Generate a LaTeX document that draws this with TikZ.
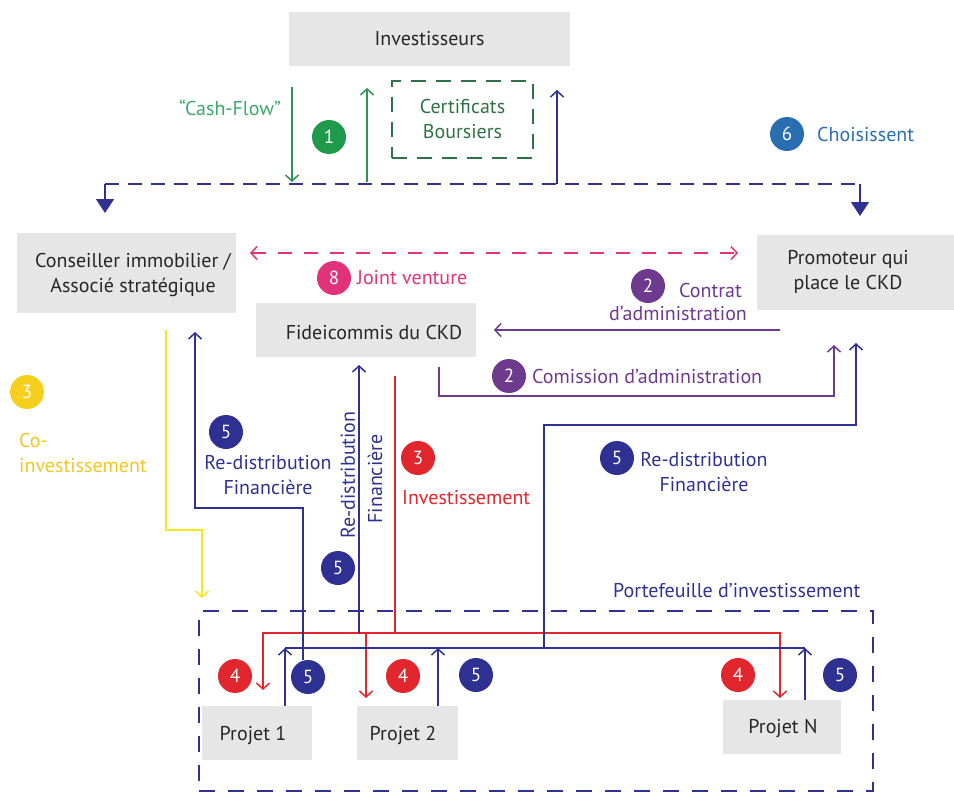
\documentclass[tikz,border=0pt]{standalone}
\usepackage{fontspec}
\setmainfont{PT Sans}
\usetikzlibrary{arrows.meta}
\definecolor{boxgray}{HTML}{E6E6E6}
\definecolor{navy}{HTML}{2E3192}
\definecolor{steel}{HTML}{2A6EB2}
\definecolor{grn}{HTML}{2E9455}
\definecolor{grntxt}{HTML}{3DA86C}
\definecolor{grnc}{HTML}{1E9A4A}
\definecolor{grnd}{HTML}{2F7247}
\definecolor{pinkc}{HTML}{E2327A}
\definecolor{purp}{HTML}{6E3A8E}
\definecolor{redc}{HTML}{E1262D}
\definecolor{yel}{HTML}{F8E71C}
\definecolor{yelc}{HTML}{F6CF1E}
\definecolor{yeltxt}{HTML}{F3C623}
\tikzset{
  box/.style={fill=boxgray, inner sep=0pt, align=center, text=black!85,
    font=\fontsize{20}{25}\selectfont},
  boxtxt/.style={inner sep=0pt, align=center, text=black!85,
    font=\fontsize{20}{25}\selectfont},
  num/.style={circle, inner sep=0pt, minimum size=34pt, text=white,
    font=\fontsize{19}{20}\selectfont},
  lbl/.style={inner sep=0pt, font=\fontsize{20}{25}\selectfont},
  flow/.style={line width=1.5pt},
  tip/.style={-{Straight Barb[length=6pt,width=13pt,line width=1.5pt]}},
  bigtip/.style={-{Triangle[length=14pt,width=18pt]}}
}
\begin{document}
\begin{tikzpicture}[x=1pt,y=-1pt]
\useasboundingbox (0,0) rectangle (954,792);

% boxes
\node[box, minimum width=281pt, minimum height=54pt] (inv) at (429.5,39) {Investisseurs};
\node[box, minimum width=219pt, minimum height=80pt] (cons) at (126.5,273) {};
\node[boxtxt] (constxt) at (133,275) {Conseiller immobilier /\\Associé stratégique};
\node[box, minimum width=197pt, minimum height=75pt] (prom) at (855.5,272.5) {};
\node[boxtxt] (promtxt) at (848,272) {Promoteur qui\\place le CKD};
\node[box, minimum width=220pt, minimum height=54pt] (fid) at (366,330) {};
\node[boxtxt] (fidtxt) at (374,332) {Fideicommis du CKD};
\node[box, minimum width=110pt, minimum height=54pt] (p1) at (257,733) {};
\node[boxtxt] (p1txt) at (253,735) {Projet 1};
\node[box, minimum width=101pt, minimum height=54pt] (p2) at (407.5,733) {};
\node[boxtxt] (p2txt) at (403,735) {Projet 2};
\node[box, minimum width=118pt, minimum height=54pt] (pn) at (782,727) {};
\node[boxtxt] (pntxt) at (783,729) {Projet N};
\node[draw=grnd, line width=1.5pt, dash pattern=on 15pt off 10pt, minimum width=141pt, minimum height=77pt,
  inner sep=0pt, align=center, text=grnd, font=\fontsize{20}{25}\selectfont] (cert) at (462.5,119.5) {Certificats\\Boursiers};

% portfolio
\node[draw=navy, line width=1.5pt, dash pattern=on 16pt off 13pt, minimum width=674pt, minimum height=180pt, inner sep=0pt] (port) at (536,701) {};
\node[lbl, text=navy, anchor=west] (portlbl) at (613,591) {Portefeuille d’investissement};

% top blue dashed line
\coordinate (tl) at (105,184);
\coordinate (tr) at (860,184);
\draw[navy, flow, dash pattern=on 14pt off 9pt] (tl) -- (tr);
\draw[navy, flow, bigtip] (tl) -- (105,213);
\draw[navy, flow, bigtip] (tr) -- (860,216);
\draw[navy, flow, tip] (557,184) -- (557,90);

% green arrows
\draw[grn, flow, tip] (292,87) -- (292,182);
\draw[grn, flow, tip] (367,182) -- (367,88);
\node[lbl, text=grntxt, anchor=east] (cf) at (281,108) {“Cash-Flow”};
\node[num, fill=grnc] (n1) at (329,137) {1};

\node[num, fill=steel] (n6) at (787,134) {6};
\node[lbl, text=steel, anchor=west] (cho) at (817,134) {Choisissent};

% pink joint venture
\draw[pinkc, flow, dash pattern=on 14pt off 12pt, {Straight Barb[length=6pt,width=13pt,line width=1.5pt]}-{Straight Barb[length=6pt,width=13pt,line width=1.5pt]}] (250,253) -- (738,253);
\node[num, fill=pinkc] (n8) at (334,278) {8};
\node[lbl, text=pinkc, anchor=west] (jv) at (357,278) {Joint venture};

% purple
\draw[purp, flow, tip] (780,330) -- (494,330);
\node[num, fill=purp] (n2a) at (648,286) {2};
\node[lbl, text=purp, anchor=west] (ct1) at (679,290) {Contrat};
\node[lbl, text=purp, anchor=west] (ct2) at (609,314) {d’administration};
\draw[purp, flow, tip] (439,367) -- (439,396) -| (834,345);
\node[num, fill=purp] (n2b) at (509,376) {2};
\node[lbl, text=purp, anchor=west] (com) at (532,376) {Comission d’administration};

% yellow
\draw[yel, flow, tip] (166,330) -- (166,530) -| (202,598);
\node[num, fill=yelc] (n3y) at (27,392) {3};
\node[lbl, text=yeltxt, anchor=west, align=left] (coinv) at (19,453) {Co-\\investissement};

% red
\coordinate (rb) at (395,633);
\draw[redc, flow] (395,376) -- (rb);
\draw[redc, flow, tip] (rb) -| (263,690);
\draw[redc, flow, tip] (rb) -| (780,698);
\draw[redc, flow, tip] (366,632) -- (366,698);
\node[num, fill=redc] (n3r) at (418,458) {3};
\node[lbl, text=redc, anchor=west] (inve) at (402,498) {Investissement};
\node[num, fill=redc] (n4a) at (235,676) {4};
\node[num, fill=redc] (n4b) at (403,676) {4};
\node[num, fill=redc] (n4c) at (738,675) {4};

% navy bus
\coordinate (b1) at (285,648);
\coordinate (b2) at (438,648);
\coordinate (bn) at (805,648);
\draw[navy, flow] (b1) -- (bn);
\draw[navy, flow, tip] (p1.north -| b1) -- (b1);
\draw[navy, flow, tip] (p2.north -| b2) -- (b2);
\draw[navy, flow, tip] (pn.north -| bn) -- (bn);

% navy redistributions
\draw[navy, flow, tip] (303,660) -- (303,508) -| (195,332);
\draw[navy, flow, tip] (359,633) -- (359,365);
\draw[navy, flow, tip] (544,648) -- (544,425) -| (856,343);

\node[num, fill=navy] (n5a) at (226,432) {5};
\node[lbl, text=navy, align=center] (rd1) at (268,475) {Re-distribution\\Financière};
\node[lbl, text=navy, rotate=90] (rd2a) at (348,475) {Re-distribution};
\node[lbl, text=navy, rotate=90] (rd2b) at (375,479) {Financière};
\node[num, fill=navy] (n5b) at (338,568) {5};
\node[num, fill=navy] (n5c) at (617,458) {5};
\node[lbl, text=navy, align=center] (rd3) at (704,472) {Re-distribution\\Financière};
\node[num, fill=navy] (n5d) at (308,677) {5};
\node[num, fill=navy] (n5e) at (476,675) {5};
\node[num, fill=navy] (n5f) at (840,675) {5};
\end{tikzpicture}
\end{document}
